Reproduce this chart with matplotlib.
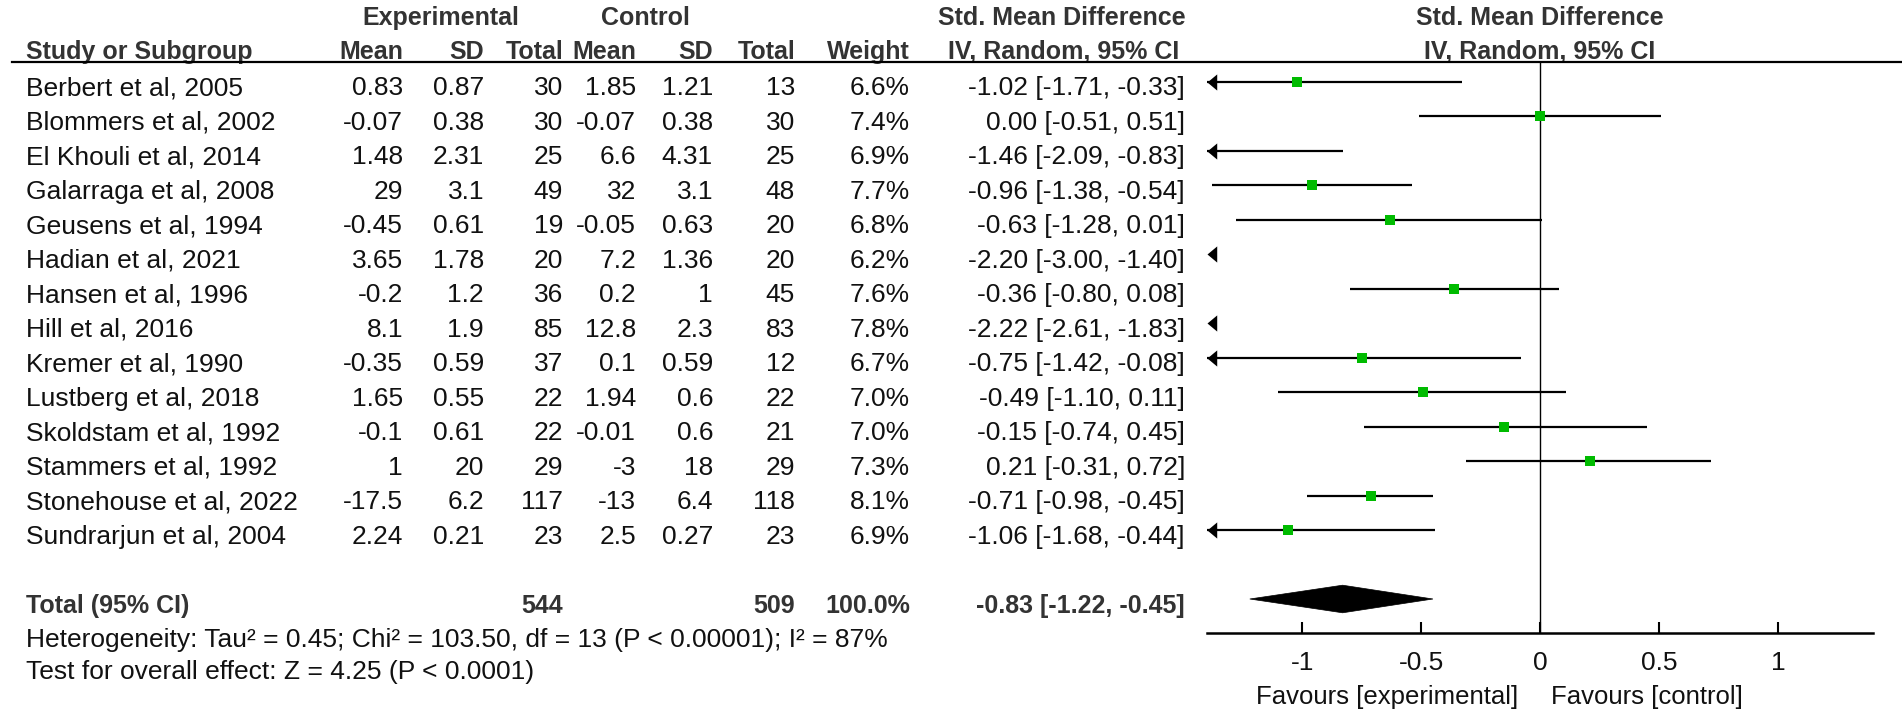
import matplotlib
matplotlib.use("Agg")
import matplotlib.pyplot as plt
import matplotlib.transforms as mtransforms
from matplotlib.lines import Line2D
from matplotlib.patches import Polygon

# ---------------- data ----------------
studies = ["Berbert et al, 2005", "Blommers et al, 2002", "El Khouli et al, 2014",
           "Galarraga et al, 2008", "Geusens et al, 1994", "Hadian et al, 2021",
           "Hansen et al, 1996", "Hill et al, 2016", "Kremer et al, 1990",
           "Lustberg et al, 2018", "Skoldstam et al, 1992", "Stammers et al, 1992",
           "Stonehouse et al, 2022", "Sundrarjun et al, 2004"]
exp_mean = [0.83, -0.07, 1.48, 29, -0.45, 3.65, -0.2, 8.1, -0.35, 1.65, -0.1, 1, -17.5, 2.24]
exp_sd = [0.87, 0.38, 2.31, 3.1, 0.61, 1.78, 1.2, 1.9, 0.59, 0.55, 0.61, 20, 6.2, 0.21]
exp_total = [30, 30, 25, 49, 19, 20, 36, 85, 37, 22, 22, 29, 117, 23]
ctl_mean = [1.85, -0.07, 6.6, 32, -0.05, 7.2, 0.2, 12.8, 0.1, 1.94, -0.01, -3, -13, 2.5]
ctl_sd = [1.21, 0.38, 4.31, 3.1, 0.63, 1.36, 1, 2.3, 0.59, 0.6, 0.6, 18, 6.4, 0.27]
ctl_total = [13, 30, 25, 48, 20, 20, 45, 83, 12, 22, 21, 29, 118, 23]
weights = [6.6, 7.4, 6.9, 7.7, 6.8, 6.2, 7.6, 7.8, 6.7, 7.0, 7.0, 7.3, 8.1, 6.9]
smd = [-1.02, 0.00, -1.46, -0.96, -0.63, -2.20, -0.36, -2.22, -0.75, -0.49, -0.15, 0.21, -0.71, -1.06]
ci_low = [-1.71, -0.51, -2.09, -1.38, -1.28, -3.00, -0.80, -2.61, -1.42, -1.10, -0.74, -0.31, -0.98, -1.68]
ci_high = [-0.33, 0.51, -0.83, -0.54, 0.01, -1.40, 0.08, -1.83, -0.08, 0.11, 0.45, 0.72, -0.45, -0.44]

total_exp = 544
total_ctl = 509
total_weight = 100.0
pooled_smd = -0.83
pooled_low = -1.22
pooled_high = -0.45

heterogeneity_text = "Heterogeneity: Tau² = 0.45; Chi² = 103.50, df = 13 (P < 0.00001); I² = 87%"
overall_text = "Test for overall effect: Z = 4.25 (P < 0.0001)"

x_ticks = [-1, -0.5, 0, 0.5, 1]
x_tick_labels = ["-1", "-0.5", "0", "0.5", "1"]
x_limits = (-1.40, 1.40)

# ---------------- layout ----------------
W, H = 1902, 712
FONT = ["Liberation Sans", "DejaVu Sans"]
REG = 19
BOLD = 18
TXT = "#111111"
HDR = "#333333"
GREEN = "#00bb00"

row0_px = 81.5      # pixel y of first CI line
row_h = 34.5        # pixels per row


def py2row(py):
    return (py - row0_px) / row_h


fig = plt.figure(figsize=(W / 100, H / 100), dpi=100)
ax_left, ax_right = 1207, 1873
ax_top, ax_bot = 62, 633
ax = fig.add_axes([ax_left / W, 1 - ax_bot / H, (ax_right - ax_left) / W, (ax_bot - ax_top) / H])
ax.set_xlim(*x_limits)
ax.set_ylim(py2row(ax_bot), py2row(ax_top))

for s in ("top", "left", "right"):
    ax.spines[s].set_visible(False)
ax.spines["bottom"].set_linewidth(1.8)
ax.set_yticks([])
ax.set_xticks(x_ticks)
ax.set_xticklabels(x_tick_labels, family=FONT, fontsize=REG, color=TXT)
ax.tick_params(axis="x", direction="in", length=8, width=1.5, pad=13)
ax.patch.set_alpha(0)

ax.axvline(0, color="black", lw=1.0, zorder=1)

tr = mtransforms.blended_transform_factory(fig.transFigure, ax.transData)
TEXT_OFF = 0.40  # baseline offset (rows) below the CI line


def put(px, row, s, ha="right", bold=False):
    ax.text(px / W, row, s, transform=tr, ha=ha, va="baseline",
            family=FONT, fontsize=BOLD if bold else REG,
            fontweight="bold" if bold else "normal",
            color=HDR if bold else TXT, clip_on=False)


def fmt(v):
    return f"{v:g}"


col_study = 26
col_em, col_esd, col_en = 403, 484, 563
col_cm, col_csd, col_cn = 636, 713, 795
col_w, col_ci = 910, 1185

# headers
r_h1 = py2row(25)
r_h2 = py2row(59)
put(441, r_h1, "Experimental", ha="center", bold=True)
put(645, r_h1, "Control", ha="center", bold=True)
put(1062, r_h1, "Std. Mean Difference", ha="center", bold=True)
ax.text(0, r_h1, "Std. Mean Difference", ha="center", va="baseline", family=FONT,
        fontsize=BOLD, fontweight="bold", color=HDR, clip_on=False)
put(col_study, r_h2, "Study or Subgroup", ha="left", bold=True)
for px, s in [(col_em, "Mean"), (col_esd, "SD"), (col_en, "Total"),
              (col_cm, "Mean"), (col_csd, "SD"), (col_cn, "Total"), (col_w, "Weight")]:
    put(px, r_h2, s, bold=True)
put(1064, r_h2, "IV, Random, 95% CI", ha="center", bold=True)
ax.text(0, r_h2, "IV, Random, 95% CI", ha="center", va="baseline", family=FONT,
        fontsize=BOLD, fontweight="bold", color=HDR, clip_on=False)

fig.add_artist(Line2D([12 / W, 1.0], [1 - 62 / H, 1 - 62 / H], color="black", lw=1.6))

# study rows
tri = [(0, 0), (1.2, -1), (1.2, 1), (0, 0)]
xmin, xmax = x_limits
for i, name in enumerate(studies):
    r = i + TEXT_OFF
    put(col_study, r, name, ha="left")
    put(col_em, r, fmt(exp_mean[i]))
    put(col_esd, r, fmt(exp_sd[i]))
    put(col_en, r, str(exp_total[i]))
    put(col_cm, r, fmt(ctl_mean[i]))
    put(col_csd, r, fmt(ctl_sd[i]))
    put(col_cn, r, str(ctl_total[i]))
    put(col_w, r, f"{weights[i]:.1f}%")
    put(col_ci, r, f"{smd[i]:.2f} [{ci_low[i]:.2f}, {ci_high[i]:.2f}]")

    lo = max(ci_low[i], xmin)
    hi = min(ci_high[i], xmax)
    if hi > lo:
        ax.plot([lo, hi], [i, i], color="black", lw=1.6, solid_capstyle="butt", zorder=2)
    if ci_low[i] < xmin:
        ax.plot([xmin], [i], marker=tri, markersize=14, color="black",
                markeredgewidth=0, clip_on=False, zorder=3)
    if xmin <= smd[i] <= xmax:
        ax.plot([smd[i]], [i], marker="s", markersize=6.5, color=GREEN,
                markeredgewidth=0, zorder=4)

# total row
r_tot = 15
put(col_study, r_tot + TEXT_OFF, "Total (95% CI)", ha="left", bold=True)
put(col_en, r_tot + TEXT_OFF, str(total_exp), bold=True)
put(col_cn, r_tot + TEXT_OFF, str(total_ctl), bold=True)
put(col_w, r_tot + TEXT_OFF, f"{total_weight:.1f}%", bold=True)
put(col_ci, r_tot + TEXT_OFF, f"{pooled_smd:.2f} [{pooled_low:.2f}, {pooled_high:.2f}]", bold=True)
dh = 0.40
ax.add_patch(Polygon([(pooled_low, r_tot), (pooled_smd, r_tot - dh),
                      (pooled_high, r_tot), (pooled_smd, r_tot + dh)],
                     closed=True, facecolor="black", edgecolor="black", lw=0.5, zorder=3))

put(col_study, py2row(647), heterogeneity_text, ha="left")
put(col_study, py2row(679), overall_text, ha="left")

# favours labels
trf = mtransforms.blended_transform_factory(ax.transData, fig.transFigure)
ax.text(-0.09, 1 - 704 / H, "Favours [experimental]", transform=trf, ha="right",
        va="baseline", family=FONT, fontsize=18.5, color=TXT, clip_on=False)
ax.text(0.045, 1 - 704 / H, "Favours [control]", transform=trf, ha="left",
        va="baseline", family=FONT, fontsize=18.5, color=TXT, clip_on=False)

fig.savefig("out.png", dpi=100, facecolor="white")
